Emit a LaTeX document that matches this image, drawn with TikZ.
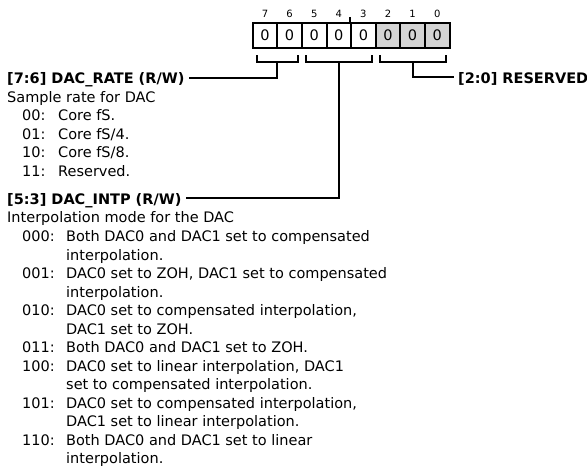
\documentclass[tikz,border=0pt]{standalone}
\usepackage{fontspec}
\setmainfont{DejaVu Sans}
\usepackage{tikz}
\usetikzlibrary{positioning, calc}
\usepackage{xcolor}
\definecolor{resgray}{RGB}{212,212,212}

\newcommand{\rcode}[1]{\makebox[36pt][l]{#1}}
\newcommand{\icode}[1]{\makebox[44pt][l]{#1}}

\begin{document}
\begin{tikzpicture}[x=1pt, y=-1pt,
  txt/.style={anchor=base west, inner sep=0pt, font=\fontsize{14.5}{17}\selectfont},
  ttl/.style={anchor=base west, inner xsep=4pt, inner ysep=0pt, font=\fontsize{14.5}{17}\selectfont\bfseries},
  cell/.style={draw, line width=2pt, minimum width=24.6pt, minimum height=25pt, inner sep=0pt, font=\fontsize{14.5}{17}\selectfont},
  bitnum/.style={above=4pt, inner sep=0pt, font=\fontsize{10}{12}\selectfont},
  wire/.style={line width=2pt}]
  \useasboundingbox (0,0) rectangle (587,466);

  % Register cells
  \foreach \b in {7,...,3}
    \node[cell] (b\b) at ({265+(7-\b)*24.6}, 35.5) {0};
  \foreach \b in {2,1,0}
    \node[cell, fill=resgray] (b\b) at ({265+(7-\b)*24.6}, 35.5) {0};
  \foreach \b in {7,...,0}
    \node[bitnum] (n\b) at (b\b.north) {\b};
  \draw[wire] (b3.north west) -- ++(0,-5);

  % Field titles
  \node[ttl] (rate) at (3,83.5) {[7:6] DAC\_RATE (R/W)};
  \node[ttl] (intp) at (3,204) {[5:3] DAC\_INTP (R/W)};
  \node[ttl] (resv) at (454,83.5) {[2:0] RESERVED};

  % Field brackets
  \draw[wire] ([xshift=5pt,yshift=-6pt]b7.south west) -- ++(0,7) -| ([xshift=-5pt,yshift=-6pt]b6.south east);
  \draw[wire] ([xshift=5pt,yshift=-6pt]b5.south west) -- ++(0,7) -| ([xshift=-5pt,yshift=-6pt]b3.south east);
  \draw[wire] ([xshift=5pt,yshift=-6pt]b2.south west) -- ++(0,7) -| ([xshift=-5pt,yshift=-6pt]b0.south east);
  \coordinate (m76) at ($(b7.south west)!.5!(b6.south east) + (0,13)$);
  \coordinate (m53) at ($(b5.south west)!.5!(b3.south east) + (0,13)$);
  \coordinate (m20) at ($(b2.south west)!.5!(b0.south east) + (0,13)$);
  \draw[wire] (m76) |- ([yshift=2pt]rate.east);
  \draw[wire] (m53) |- ([yshift=2pt]intp.east);
  \draw[wire] (m20) |- ([yshift=2pt]resv.west);

  % DAC_RATE values
  \node[txt] (rdesc) at (7,102) {Sample rate for DAC};
  \node[txt] (r00) at (22,120.5) {\rcode{00:}Core fS.};
  \node[txt] (r01) at (22,139) {\rcode{01:}Core fS/4.};
  \node[txt] (r10) at (22,157.5) {\rcode{10:}Core fS/8.};
  \node[txt] (r11) at (22,176) {\rcode{11:}Reserved.};

  % DAC_INTP values
  \node[txt] (idesc) at (7,222.5) {Interpolation mode for the DAC};
  \node[txt] (i000) at (22,241.5) {\icode{000:}Both DAC0 and DAC1 set to compensated};
  \node[txt] (i000b) at (66,260) {interpolation.};
  \node[txt] (i001) at (22,278.5) {\icode{001:}DAC0 set to ZOH, DAC1 set to compensated};
  \node[txt] (i001b) at (66,297) {interpolation.};
  \node[txt] (i010) at (22,315.5) {\icode{010:}DAC0 set to compensated interpolation,};
  \node[txt] (i010b) at (66,334) {DAC1 set to ZOH.};
  \node[txt] (i011) at (22,352.5) {\icode{011:}Both DAC0 and DAC1 set to ZOH.};
  \node[txt] (i100) at (22,371) {\icode{100:}DAC0 set to linear interpolation, DAC1};
  \node[txt] (i100b) at (66,389.5) {set to compensated interpolation.};
  \node[txt] (i101) at (22,408) {\icode{101:}DAC0 set to compensated interpolation,};
  \node[txt] (i101b) at (66,426.5) {DAC1 set to linear interpolation.};
  \node[txt] (i110) at (22,445) {\icode{110:}Both DAC0 and DAC1 set to linear};
  \node[txt] (i110b) at (66,463.5) {interpolation.};

\end{tikzpicture}
\end{document}
